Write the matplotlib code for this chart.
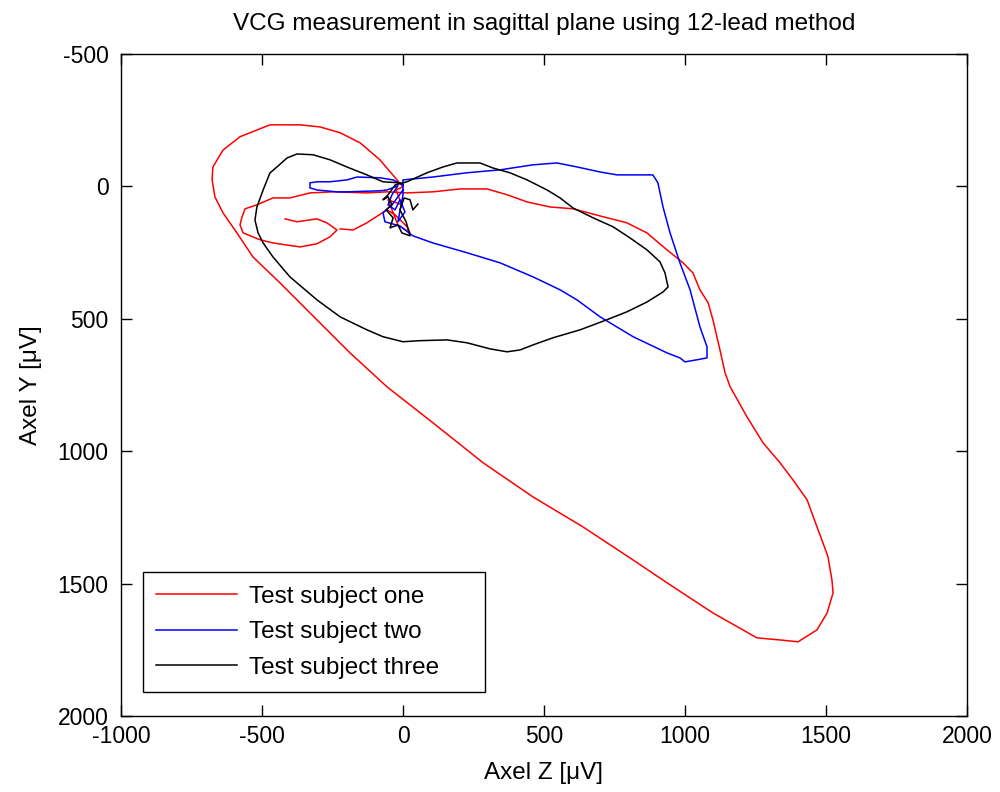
import numpy as np
import matplotlib
matplotlib.use("Agg")
from matplotlib import pyplot as plt

plt.rcParams['font.family'] = ['Liberation Sans', 'DejaVu Sans']
plt.rcParams['axes.unicode_minus'] = False

# VCG loops, Z and Y in microvolts
oneZ = [-223, -177, -128, -57, -28, 14, 25, -18, -53, -4, -25, 0,
        -21, -82, -152, -223, -294, -365, -472, -578, -638, -674, -677, -667, -638, -589,
        -532, -436, -330, -188, -57, 106, 284, 461, 638, 816, 936, 1099, 1255, 1337, 1401,
        1468, 1504, 1525, 1521, 1507, 1489, 1468, 1433, 1383, 1337, 1277, 1220, 1160, 1142,
        1124, 1099, 1082, 1053, 1028, 993, 936, 865, 794, 699, 603, 521, 440, 369, 298, 202,
        106, 14,
        -57, -128, -248, -330, -401, -461, -518, -560, -571, -578, -567, -507, -461, -365,
        -305, -259, -234,
        -270, -305, -376, -418]
oneY = [161, 165, 138, 89, 108, 152, 176, 146, 51, 70, 14, 2,
        -24, -100, -164, -202, -224, -232, -232, -187, -137, -73, -25, 40, 101, 176,
        267, 365, 478, 629, 757, 893, 1044, 1173, 1286, 1411, 1497, 1611, 1705, 1713, 1720,
        1675, 1611, 1535, 1486, 1399, 1346, 1286, 1184, 1109, 1044, 969, 871, 757, 704,
        618, 504, 440, 391, 327, 289, 240, 176, 138, 112, 85, 78, 59, 32, 10, 10,
        21, 25,
        21, 25, 21, 25, 44, 44, 70, 85, 116, 146, 176, 202, 214, 229,
        217, 191, 165,
        138, 123, 134, 123]

twoZ = [0, -35, -82, -163, -199, -259, -305, -330, -330, -305, -234, -199, -82, -57, -18,
        -39, -53, -28, -11, 7, -18, 0, 0,
        106, 227, 344, 461, 546, 617, 699, 759, 816, 886, 904, 922, 947, 982, 1018, 1053,
        1078, 1078, 1043, 1000, 982, 936, 816, 699, 617, 557, 461, 344, 227, 106, 35, -11,
        -64, -71, -39, 0]
twoY = [-5, -24, -32, -35, -24, -17, -17, -13, 6, 14, 21, 21, 17, 14, -2,
        32, 70, 89, 51, 97, 134, 32, -24,
        -35, -51, -62, -81, -88, -73, -54, -43, -43, -43, -13, 78, 176, 289, 391, 531,
        606, 648, 655, 663, 648, 629, 568, 493, 429, 391, 342, 289, 251, 214, 187, 150,
        134, 100, 70, 14]

threeZ = [-11, -71, -128, -199, -259, -319, -376, -411, -447, -472, -496, -518, -525, -514,
          -496, -461, -401, -305, -223, -128, -71, 0, 60, 156, 227, 309, 369, 415, 461, 532,
          628, 723, 794, 865, 922, 940, 929, 911, 865, 805, 745, 674, 603, 557, 511, 440,
          379, 319, 273, 191, 142, 85, 14,
          -28, -53, -71, -53, -39, -60, -35, -46, -18, -4, 25, 11, -11, 4, 25, 35, 53]
threeY = [-13, -17, -43, -73, -100, -119, -122, -107, -73, -50, 14, 78, 127, 176,
          214, 267, 342, 429, 493, 542, 568, 587, 583, 580, 591, 614, 625, 618, 599, 572,
          542, 504, 474, 437, 399, 380, 327, 285, 240, 195, 153, 119, 82, 44, 14, -24,
          -51, -69, -88, -88, -73, -51, -17,
          -5, 32, 51, 40, 70, 89, 119, 157, 146, 176, 187, 134, 89, 44, 51, 89, 67]

labels = ["Test subject one", "Test subject two", "Test subject three"]

fig = plt.figure(figsize=(10, 7.92), dpi=100)
ax = fig.add_axes([0.121, 0.096, 0.846, 0.836])

ax.plot(oneZ, oneY, color='#ff0000', lw=1.1, label=labels[0])
ax.plot(twoZ, twoY, color='#0000ff', lw=1.1, label=labels[1])
ax.plot(threeZ, threeY, color='black', lw=1.1, label=labels[2])

ax.set_xlim(-1000, 2000)
ax.set_ylim(2000, -500)
ax.set_xticks(np.arange(-1000, 2001, 500))
ax.set_yticks(np.arange(-500, 2001, 500))
ax.tick_params(direction='in', length=8, width=1, top=True, right=True, labelsize=16.5)
ax.tick_params(axis='y', pad=9)
ax.tick_params(axis='x', pad=6.5)
for s in ax.spines.values():
    s.set_linewidth(1.0)

ax.set_title('VCG measurement in sagittal plane using 12-lead method', fontsize=17.5, pad=17)
ax.set_xlabel('Axel Z [μV]', fontsize=17.5, labelpad=10)
ax.set_ylabel('Axel Y [μV]', fontsize=17.5, labelpad=11)

leg = ax.legend(loc='lower left', bbox_to_anchor=(0.026, 0.036, 0.404, 0.2), mode='expand',
                borderaxespad=0, fontsize=17.5, fancybox=False, framealpha=1,
                edgecolor='black', handlelength=3.3, handletextpad=0.5,
                borderpad=0.55, labelspacing=0.56)
leg.get_frame().set_linewidth(1.0)

fig.savefig('out.png', dpi=100)
